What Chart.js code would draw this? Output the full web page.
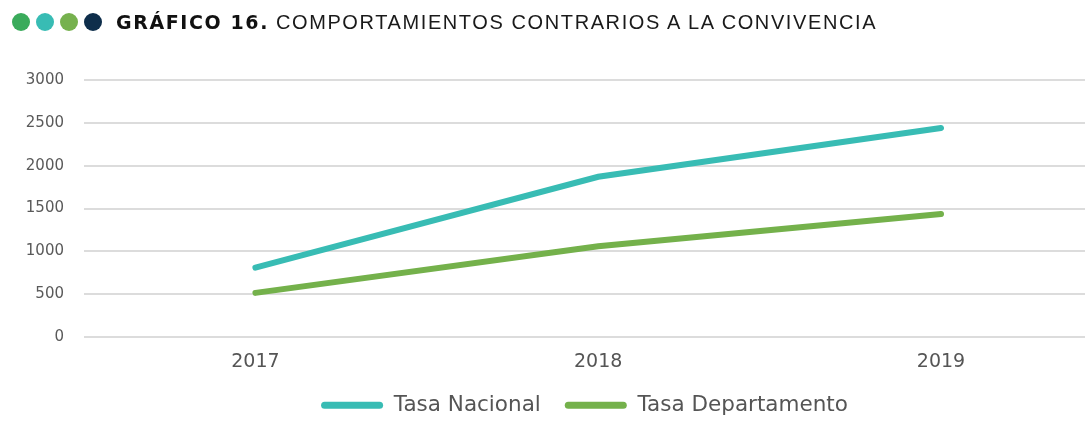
<!DOCTYPE html>
<html>
<head>
<meta charset="utf-8">
<script src="https://cdn.jsdelivr.net/npm/chart.js@4"></script>
<style>
  html, body { margin: 0; padding: 0; background: #fff; }
  #wrap { position: relative; width: 1085px; height: 433px; }
  #head { position: absolute; left: 12px; top: 10px; height: 24px; display: flex; align-items: center; white-space: nowrap; }
  .dot { width: 18px; height: 18px; border-radius: 50%; margin-right: 6px; display: inline-block; }
  #head b { font-family: "DejaVu Sans", sans-serif; font-weight: 900; font-size: 19px; color: #111; margin-left: 8px; letter-spacing: 1.6px; }
  #head span.t { font-family: "Liberation Sans", Arial, sans-serif; font-size: 20px; color: #1a1a1a; margin-left: 7px; letter-spacing: 1.6px; }
  canvas { position: absolute; left: 0; top: 0; }
</style>
</head>
<body>
<div id="wrap">
  <canvas id="lineChart" width="1085" height="433"></canvas>
  <div id="head">
    <i class="dot" style="background:#3aab5b"></i><i class="dot" style="background:#38bcb4"></i><i class="dot" style="background:#76b14e"></i><i class="dot" style="background:#0e2e4b"></i>
    <b>GRÁFICO 16.</b><span class="t">COMPORTAMIENTOS CONTRARIOS A LA CONVIVENCIA</span>
  </div>
</div>
<script>
const years = [2017, 2018, 2019];
const tasaNacional = [810, 1870, 2440];
const tasaDepartamento = [515, 1060, 1435];
const yTicks = [0, 500, 1000, 1500, 2000, 2500, 3000];

function createLineChart() {
  const points = (vals) => years.map((yr, i) => ({ x: yr, y: vals[i] }));

  const data = {
    datasets: [
      {
        label: "Tasa Nacional",
        data: points(tasaNacional),
        borderColor: "#38bcb4",
        backgroundColor: "#38bcb4",
        borderWidth: 6,
        borderCapStyle: "round",
        pointRadius: 0,
        tension: 0,
      },
      {
        label: "Tasa Departamento",
        data: points(tasaDepartamento),
        borderColor: "#74b14b",
        backgroundColor: "#74b14b",
        borderWidth: 6,
        borderCapStyle: "round",
        pointRadius: 0,
        tension: 0,
      },
    ],
  };

  // legend swatches: flat rounded bars, no stroke
  const legendLabels = (chart) => {
    const items = Chart.defaults.plugins.legend.labels.generateLabels(chart);
    items.forEach((it) => { it.lineWidth = 0; });
    return items;
  };

  const config = {
    type: "line",
    data: data,
    options: {
      responsive: false,
      animation: false,
      layout: { padding: { top: 80, left: 0, right: 0, bottom: 7 } },
      scales: {
        x: {
          type: "linear",
          min: 2016.5,
          max: 2019.42,
          afterBuildTicks: (scale) => {
            scale.ticks = years.map((v) => ({ value: v }));
          },
          afterFit: (scale) => { scale.height = 33.5; },
          grid: { display: false, drawTicks: false },
          border: { display: false },
          ticks: {
            callback: (v) => String(v),
            color: "#555555",
            padding: 14,
            font: { family: "DejaVu Sans", size: 19 },
          },
        },
        y: {
          min: 0,
          max: 3000,
          afterBuildTicks: (scale) => {
            scale.ticks = yTicks.map((v) => ({ value: v }));
          },
          afterFit: (scale) => { scale.width = 84; },
          grid: { color: "#dcdcdc", lineWidth: 2, drawTicks: false },
          border: { display: false },
          ticks: {
            callback: (v) => String(v),
            color: "#5a5a5a",
            padding: 20,
            font: { family: "DejaVu Sans", size: 15 },
          },
        },
      },
      plugins: {
        legend: {
          position: "bottom",
          fullSize: false,
          labels: {
            generateLabels: legendLabels,
            boxWidth: 62,
            boxHeight: 7,
            borderRadius: 3.5,
            useBorderRadius: true,
            padding: 24,
            color: "#555555",
            font: { family: "DejaVu Sans", size: 21.5 },
          },
        },
        tooltip: { enabled: false },
      },
    },
  };

  const ctx = document.getElementById("lineChart");
  new Chart(ctx, config);
}

document.addEventListener("DOMContentLoaded", () => {
  createLineChart()
});
</script>
</body>
</html>
